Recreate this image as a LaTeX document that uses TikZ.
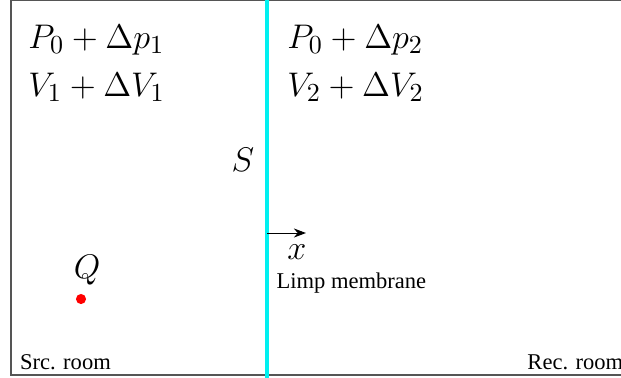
\documentclass[tikz,border=0pt]{standalone}
\usepackage[no-math]{fontspec}
\setmainfont{Liberation Serif}
\usepackage{amsmath}
\usepackage{xcolor}
\usetikzlibrary{positioning,arrows.meta}
\definecolor{wall}{HTML}{555555}
\definecolor{memb}{HTML}{00F0F0}
\begin{document}
\begin{tikzpicture}[lbl/.style={font=\fontsize{15.3}{18}\selectfont, anchor=west, inner sep=0pt}, room/.style={font=\fontsize{9.5}{11}\selectfont, inner sep=0pt}]
\useasboundingbox (0,0) rectangle (9.2,5.6);
\clip (0,0) rectangle (9.2,5.6);
% rooms
\draw[wall, thick] (0.163,0.044) rectangle (9.6,5.6);
\node[room, anchor=south west] (src) at (0.29,0.12) {Src. room};
\node[room, anchor=south east] (rec) at (9.24,0.12) {Rec. room};
% membrane
\coordinate (mtop) at (3.956,5.7);
\coordinate (mbot) at (3.956,0);
\draw[memb, line width=1.3pt] (mtop) -- (mbot);
\node[font=\Large] (S) at (3.60,3.23) {$S$};
\node[room, anchor=west] (limp) at (4.09,1.41) {Limp membrane};
% x axis
\coordinate (xo) at (3.956,2.148);
\coordinate (xe) at (4.533,2.148);
\draw[-{Stealth[length=1.8mm]}] (xo) -- (xe);
\node[font=\Large] (xl) at (4.40,1.87) {$x$};
% states
\node[lbl] (p1) at (0.415,5.01) {$P_0+\Delta p_1$};
\node[lbl] (v1) at (0.415,4.31) {$V_1+\Delta V_1$};
\node[lbl] (p2) at (4.25,5.01) {$P_0+\Delta p_2$};
\node[lbl] (v2) at (4.25,4.31) {$V_2+\Delta V_2$};
% source
\node[circle, fill=red, inner sep=0pt, minimum size=0.15cm] (q) at (1.20,1.17) {};
\node[font=\Large] (ql) at (1.289,1.60) {$Q$};
\end{tikzpicture}
\end{document}
